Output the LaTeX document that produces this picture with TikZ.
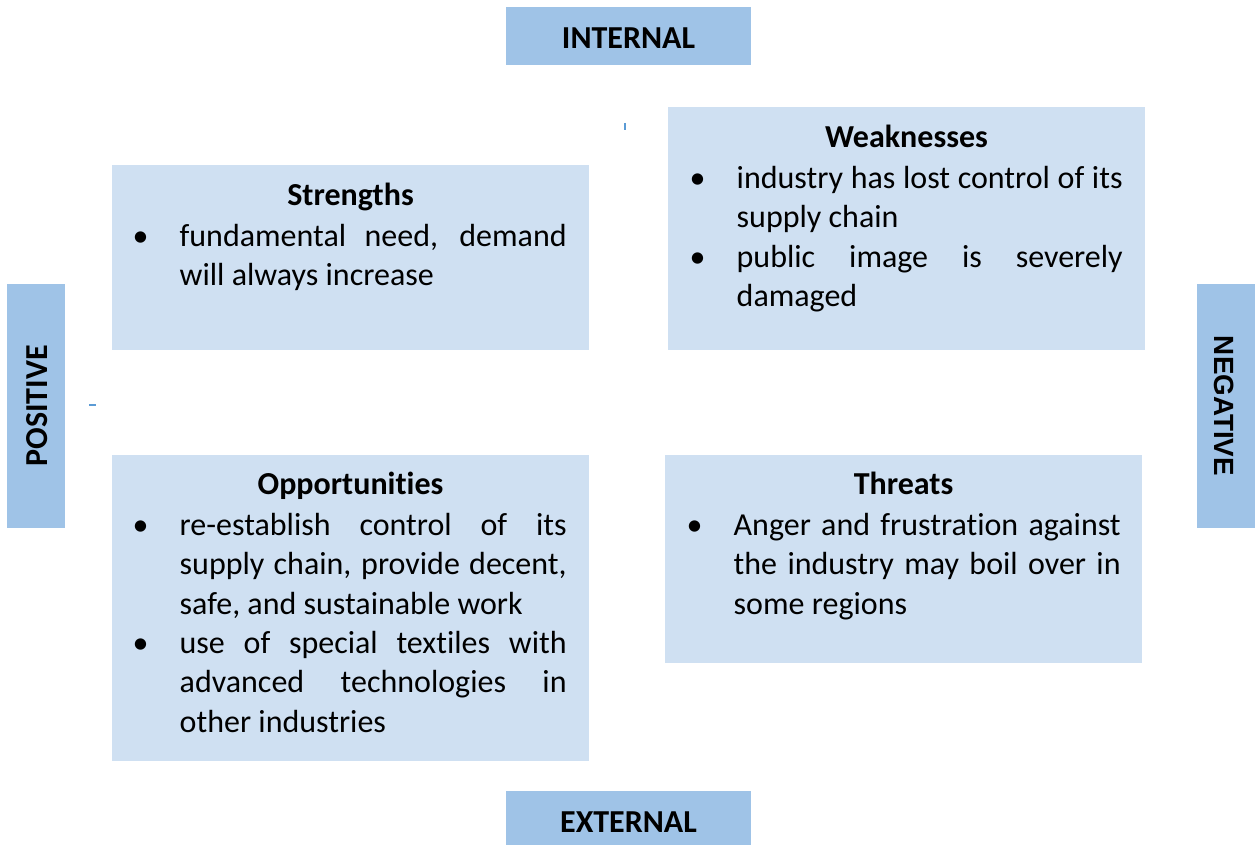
\documentclass[tikz,border=0pt]{standalone}
\usepackage{fontspec}
\setmainfont{Carlito}[Ligatures=NoCommon]
\newfontfamily\arialfont{Liberation Sans}[BoldFont={Liberation Sans Bold}]
\definecolor{hdrblue}{HTML}{9FC3E7}
\definecolor{quadblue}{HTML}{CFE0F2}
\definecolor{markblue}{HTML}{5B9BD5}
\newcommand\swotsetup{\hyphenpenalty=10000 \exhyphenpenalty=10000 \tolerance=10000 \parindent=0pt\relax}
\newcommand\swotitem[1]{\par\noindent\hangindent=40pt\hangafter=1\rule{0pt}{30pt}\makebox[40pt][l]{\hspace*{-7pt}\textbullet}#1\par}
\tikzset{
  hdrbox/.style={fill=hdrblue, inner sep=0pt, outer sep=0pt, font=\fontsize{32}{38}\selectfont\bfseries},
  quadbox/.style={fill=quadblue, inner sep=0pt, outer sep=0pt, anchor=north west},
  ttl/.style={font=\fontsize{32}{38}\selectfont\bfseries, inner sep=0pt, anchor=base},
  bodytext/.style={anchor=north west, inner sep=0pt, text width=427pt, align=justify,
    font=\fontsize{32}{39.3}\selectfont},
  tinymark/.style={draw=markblue, line width=2pt}
}
\begin{document}
\begin{tikzpicture}[x=1pt,y=-1pt]
\useasboundingbox (0,0) rectangle (1255,845);
% header boxes
\node[hdrbox, minimum width=245pt, minimum height=58pt] (internal) at (628.5,36) {\raisebox{-2pt}[\height][\depth]{INTERNAL}};
\node[hdrbox, minimum width=245pt, minimum height=54pt] (external) at (628.5,818) {\raisebox{-4pt}[\height][\depth]{EXTERNAL}};
\node[hdrbox, minimum width=244pt, minimum height=58pt, rotate=90] (positive) at (36,406) {\raisebox{-1pt}[\height][\depth]{POSITIVE}};
\node[hdrbox, minimum width=244pt, minimum height=58pt, rotate=-90] (negative) at (1226,406) {\raisebox{-2pt}[\height][\depth]{\fontsize{27.8}{32}\selectfont\arialfont\bfseries NEGATIVE}};
% quadrants
\node[quadbox, minimum width=477pt, minimum height=185pt] (S) at (112,165) {};
\node[quadbox, minimum width=477pt, minimum height=243pt] (W) at (668,107) {};
\node[quadbox, minimum width=477pt, minimum height=306pt] (O) at (112,455) {};
\node[quadbox, minimum width=477pt, minimum height=208pt] (T) at (665,455) {};
% titles
\node[ttl] (St) at (350.5,206) {Strengths};
\node[ttl] (Wt) at (906.5,148) {Weaknesses};
\node[ttl] (Ot) at (350.5,494) {Opportunities};
\node[ttl] (Tt) at (903.5,494) {Threats};
% bodies
\node[bodytext] (Sb) at (139.5,207) {\swotsetup\swotitem{fundamental need, demand\linebreak will always increase}};
\node[bodytext, text width=426pt] (Wb) at (696.5,149) {\swotsetup\swotitem{industry has lost control of its\linebreak supply chain}\swotitem{public image is severely\linebreak damaged}};
\node[bodytext] (Ob) at (139.5,496) {\swotsetup\swotitem{re-establish control of its\linebreak supply chain, provide decent,\linebreak safe, and sustainable work}\swotitem{use of special textiles with\linebreak advanced technologies in\linebreak other industries}};
\node[bodytext] (Tb) at (693.5,496) {\swotsetup\swotitem{Anger and frustration against\linebreak the industry may boil over in\linebreak some regions}};
% tiny marks
\draw[tinymark] (625,123) -- (625,130);
\draw[tinymark] (89,405) -- (96,405);
\end{tikzpicture}
\end{document}
